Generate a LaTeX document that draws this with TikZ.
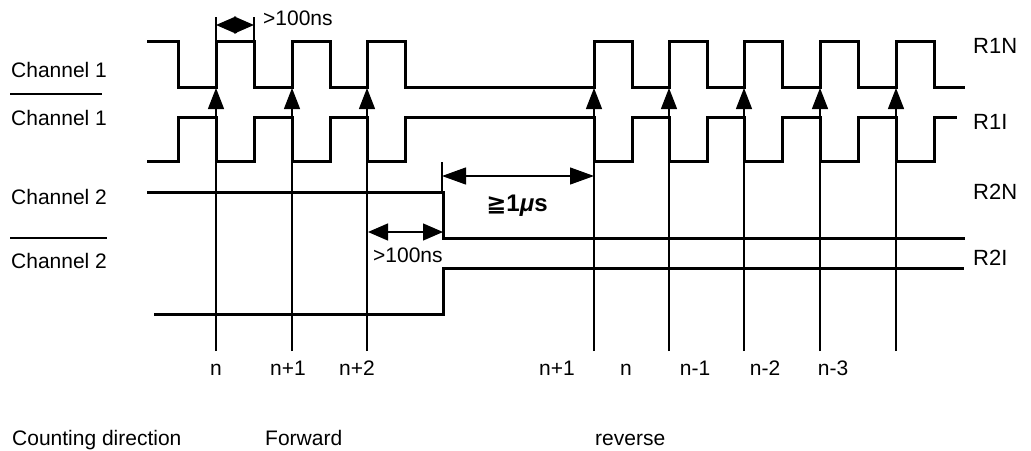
\documentclass[tikz,border=0pt]{standalone}
\usepackage{fontspec}
\setmainfont{Liberation Sans}
\newfontfamily\symbolfont{DejaVu Sans}
\usetikzlibrary{arrows.meta}
\tikzset{
  signal/.style={
    line width=3pt,
    line join=miter
  },
  marker/.style={
    line width=1.3pt
  },
  countarrow/.style={
    marker,
    -{Triangle[length=21pt,width=16pt]}
  },
  dimarrow/.style={
    marker,
    {Triangle[length=20pt,width=17pt]}-{Triangle[length=20pt,width=17pt]}
  },
  overbar/.style={
    line width=2.6pt
  },
  txt/.style={
    inner sep=0pt,
    font=\fontsize{21}{25}\selectfont
  },
  rname/.style={
    txt,
    anchor=base west,
    font=\fontsize{22}{26}\selectfont
  }
}

\begin{document}
\begin{tikzpicture}[x=1pt,y=-1pt]
  \useasboundingbox (0,0) rectangle (1031,450);

  % channel names
  \node[txt, anchor=base west] (ch1n) at (11,77) {Channel 1};
  \node[txt, anchor=base west] (ch1i) at (11,125) {Channel 1};
  \node[txt, anchor=base west] (ch2n) at (11,204) {Channel 2};
  \node[txt, anchor=base west] (ch2i) at (11,268) {Channel 2};
  \draw[overbar] (10,94) -- (102,94);
  \draw[overbar] (10,238) -- (107,238);

  % signals
  \draw[signal] (147,41) -- (178,41) -- (178,87)
    \foreach \x in {216,292,367,594,669,744,820,896} { -- (\x,87) -- (\x,41) -- (\x+38,41) -- (\x+38,87) }
    -- (965,87);
  \draw[signal] (147,161) -- (178,161) -- (178,117)
    \foreach \x in {216,292,367,594,669,744,820,896} { -- (\x,117) -- (\x,161) -- (\x+38,161) -- (\x+38,117) }
    -- (957,117);
  \draw[signal] (147,192) -- (443,192) -- (443,238) -- (965,238);
  \draw[signal] (154,314) -- (443,314) -- (443,268) -- (964,268);

  \node[rname] (r1n) at (973,53) {R1N};
  \node[rname] (r1i) at (973,129) {R1I};
  \node[rname] (r2n) at (973,199) {R2N};
  \node[rname] (r2i) at (973,265) {R2I};

  % counting edges
  \foreach \x in {216,292,367,594,669,744,820,896}
    \draw[countarrow] (\x,351) -- (\x,88);
  \foreach \x/\t in {216/n, 288/n+1, 357/n+2, 557/n+1, 626/n, 695/n-1, 765/n-2, 833/n-3}
    \node[txt, anchor=base] at (\x,375) {\t};

  % timing limits
  \coordinate (p1) at (216,25);
  \coordinate (p2) at (254,25);
  \draw[marker] (216,17) -- (216,41);
  \draw[marker] (254,17) -- (254,41);
  \draw[dimarrow] (p1) -- (p2);
  \draw[marker] (236,19) -- (236,33);
  \node[txt, anchor=base west] (t1) at (263,25) {>100ns};

  \coordinate (q1) at (368,232);
  \coordinate (q2) at (443,232);
  \draw[dimarrow] (q1) -- (q2);
  \node[txt, anchor=base west] (t2) at (373,262) {>100ns};

  \coordinate (s1) at (442,176);
  \coordinate (s2) at (594,176);
  \draw[marker] (442,162) -- (442,192);
  \draw[dimarrow, {Triangle[length=24pt,width=17pt]}-{Triangle[length=24pt,width=17pt]}] (s1) -- (s2);
  \node[anchor=base, inner sep=0pt, font=\fontsize{24}{28}\selectfont\bfseries] (t3) at (517,211) {{\symbolfont ≧}1{\itshape μ}s};

  % direction
  \node[txt, anchor=base west] (cnt) at (12,445) {Counting direction};
  \node[txt, anchor=base west] (fwd) at (265,445) {Forward};
  \node[txt, anchor=base west] (rev) at (595,445) {reverse};
\end{tikzpicture}
\end{document}
